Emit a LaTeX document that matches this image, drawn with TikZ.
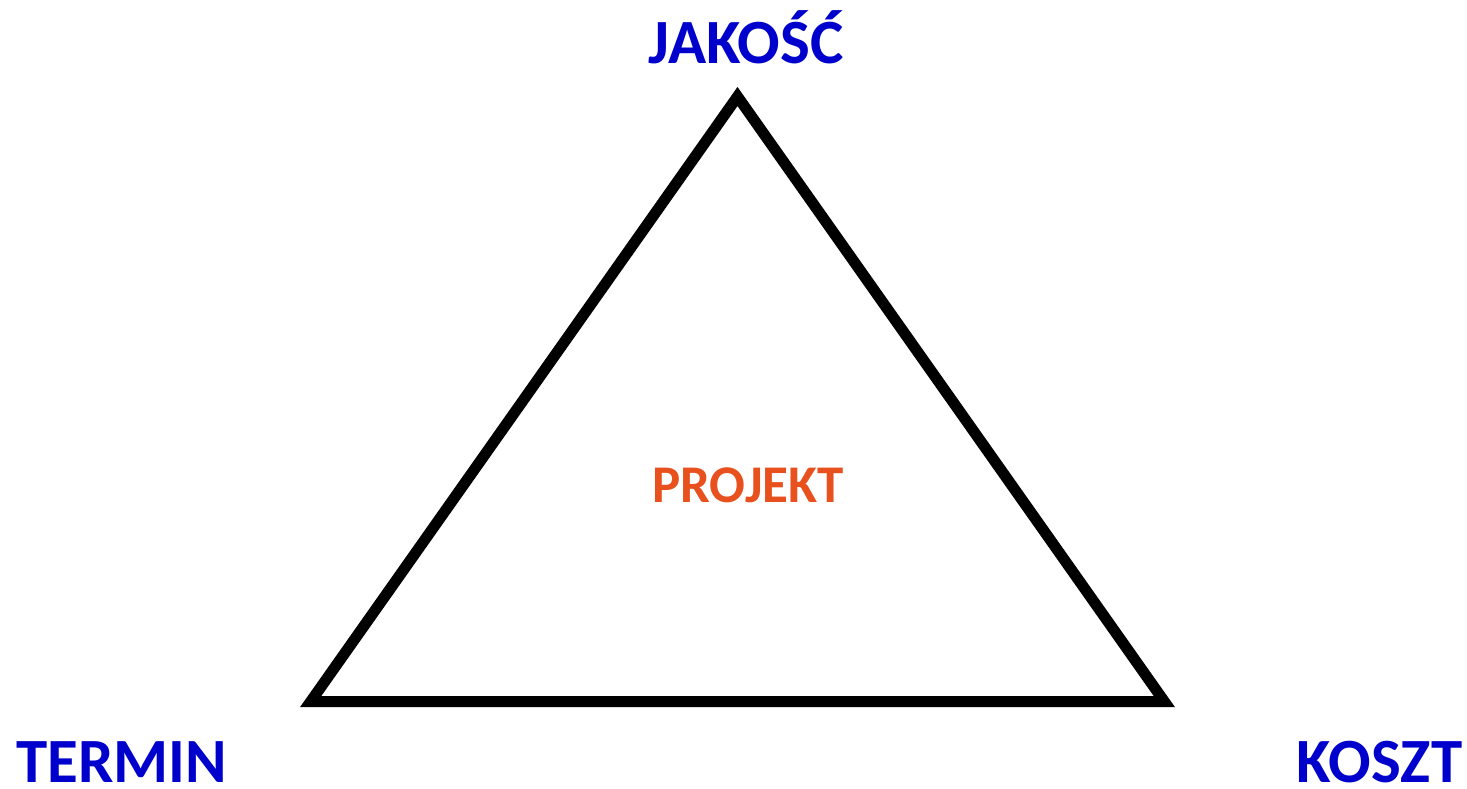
\documentclass[tikz,border=0pt]{standalone}
\usepackage{fontspec}
\setmainfont{Carlito}
\usetikzlibrary{positioning}
\definecolor{cornerBlue}{HTML}{0000CC}
\definecolor{projOrange}{HTML}{E8501E}
\tikzset{
  cornerLabel/.style={anchor=base, inner sep=0pt, text=cornerBlue,
                      font=\fontsize{63}{68}\selectfont\bfseries},
  centerLabel/.style={anchor=base, inner sep=0pt, text=projOrange,
                      font=\fontsize{53}{58}\selectfont\bfseries},
  triEdge/.style={draw=black, line width=11pt, miter limit=10},
}

\begin{document}
\begin{tikzpicture}[x=1pt, y=-1pt]
    \useasboundingbox (0,0) rectangle (1467,788);
    \coordinate (top) at (737.5,96.5);
    \coordinate (left) at (310.7,701.5);
    \coordinate (right) at (1164.3,701.5);
    \draw[triEdge] (top) -- (right) -- (left) -- cycle;
    \node[cornerLabel] (jakosc) at (746,63) {JAKOŚĆ};
    \node[cornerLabel] (termin) at (121.5,782) {TERMIN};
    \node[cornerLabel] (koszt) at (1379.5,782) {KOSZT};
    \node[centerLabel] (projekt) at (748,502) {PROJEKT};
  \end{tikzpicture}
\end{document}
